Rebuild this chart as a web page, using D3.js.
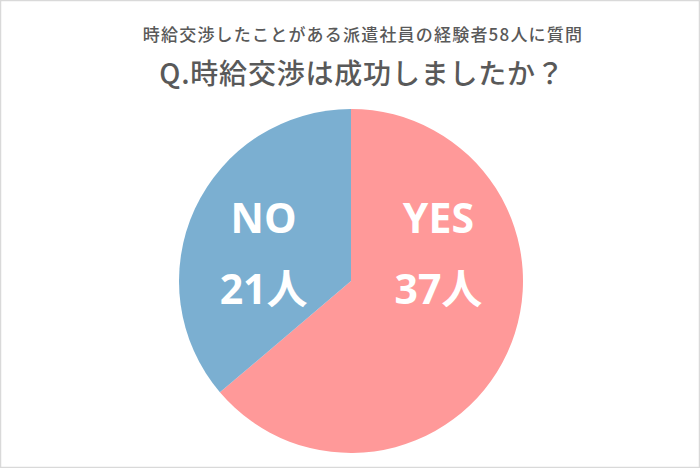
<!DOCTYPE html>
<html><head><meta charset="utf-8">
<script src="https://cdn.jsdelivr.net/npm/d3@7"></script>
<style>html,body{margin:0;padding:0;background:#fff;}svg{display:block;}</style>
</head><body>
<svg id="chart" width="700" height="468"></svg>
<script>
const categories = ["YES", "NO"];
const values = [37, 21];
const colors = ["#FF9999", "#7BAFD1"];
const unit = "人";
const subtitle = "時給交渉したことがある派遣社員の経験者58人に質問";
const title = "Q.時給交渉は成功しましたか？";

const svg = d3.select("#chart");
const W = 700, H = 468;
svg.append("rect").attr("x",0.5).attr("y",0.5).attr("width",W-1).attr("height",H-1)
  .attr("fill","#fff").attr("stroke","#d9d9d9").attr("stroke-width",1.5);

const font = "'Noto Sans CJK JP','Noto Sans',sans-serif";
svg.append("text").attr("x",363).attr("y",41).attr("text-anchor","middle")
  .attr("font-family",font).attr("font-size",17).attr("font-weight",500)
  .attr("fill","#595959").attr("letter-spacing",1.2).text(subtitle);
svg.append("text").attr("x",362).attr("y",84).attr("text-anchor","middle")
  .attr("font-family",font).attr("font-size",28).attr("font-weight",500)
  .attr("fill","#595959").attr("letter-spacing",0.8).text(title);

const cx = 351, cy = 281, r = 172;
const g = svg.append("g").attr("transform",`translate(${cx},${cy})`);
const data = categories.map((c,i)=>({cat:c, value:values[i], color:colors[i]}));
const pie = d3.pie().value(d=>d.value).sort(null);
const arc = d3.arc().innerRadius(0).outerRadius(r);
const arcs = pie(data);
g.selectAll("path").data(arcs).join("path")
  .attr("d",arc).attr("fill",d=>d.data.color);

const lf = "'Open Sans','Noto Sans CJK JP',sans-serif";
arcs.forEach(a=>{
  const mid = (a.startAngle+a.endAngle)/2;
  const x = Math.sin(mid) * r * 0.56;
  const t = g.append("text").attr("text-anchor","middle")
    .attr("font-family",lf).attr("font-weight",700).attr("font-size",41)
    .attr("fill","#fff");
  t.append("tspan").attr("x",x).attr("y",-48).text(a.data.cat);
  t.append("tspan").attr("x",x).attr("y",23).text(a.data.value + unit);
});
</script>
</body></html>
